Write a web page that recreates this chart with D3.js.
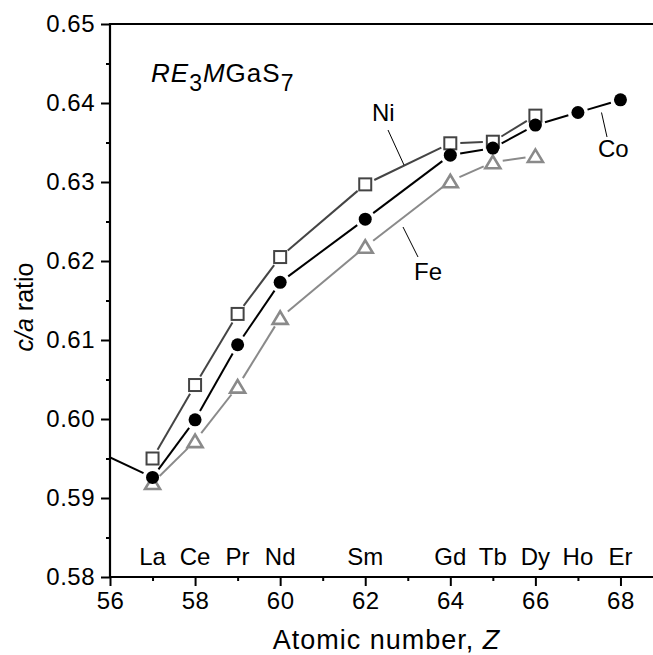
<!DOCTYPE html>
<html><head><meta charset="utf-8">
<script src="https://cdn.jsdelivr.net/npm/d3@7"></script>
<style>
html,body{margin:0;padding:0;background:#fff;}
text{font-family:Arial,"Liberation Sans",sans-serif;fill:#000;}
</style></head>
<body>
<svg id="chart" width="653" height="655"></svg>
<script>
// ---- data ----
const elements = ["La","Ce","Pr","Nd","Sm","Gd","Tb","Dy","Ho","Er"];
const elementZ = [57,58,59,60,62,64,65,66,67,68];
const coZ = [55,57,58,59,60,62,64,65,66,67,68];
const coVals = [0.5977,0.5926,0.5999,0.6094,0.6173,0.6253,0.6334,0.6343,0.6372,0.6388,0.6404];
const niZ = [57,58,59,60,62,64,65,66];
const niVals = [0.5950,0.6043,0.6133,0.6205,0.6297,0.6349,0.6351,0.6384];
const feZ = [57,58,59,60,62,64,65,66];
const feVals = [0.5919,0.5972,0.6041,0.6128,0.6218,0.6301,0.6325,0.6333];
const xTicks = [56,58,60,62,64,66,68];
const yTicks = [0.58,0.59,0.60,0.61,0.62,0.63,0.64,0.65];

const svg = d3.select("#chart");
const L=110, T=24, B=577, R=663;
const x = d3.scaleLinear().domain([56,69]).range([L,R]);
const y = d3.scaleLinear().domain([0.58,0.65]).range([B,T]);

svg.append("defs").append("clipPath").attr("id","clip")
  .append("rect").attr("x",L).attr("y",T).attr("width",R-L).attr("height",B-T);

// axes
const yAxis = d3.axisLeft(y).tickValues(yTicks).tickFormat(d3.format(".2f")).tickSize(9).tickPadding(6);
const yMinor = d3.axisLeft(y).tickValues(d3.range(0.585,0.65,0.01)).tickFormat("").tickSize(4);
const xAxis = d3.axisBottom(x).tickValues(xTicks).tickFormat(d3.format("d")).tickSize(9).tickPadding(6);
const xMinor = d3.axisBottom(x).tickValues(d3.range(57,70,2)).tickFormat("").tickSize(4);

function style(g){
  g.select(".domain").remove();
  g.selectAll("line").attr("stroke","#000").attr("stroke-width",2);
  g.selectAll("text").style("font-size","24px").style("letter-spacing","0.5px").attr("fill","#000");
}
svg.append("g").attr("transform",`translate(${L},0)`).call(yAxis).call(style);
svg.append("g").attr("transform",`translate(${L},0)`).call(yMinor).call(style);
svg.append("g").attr("transform",`translate(0,${B})`).call(xAxis).call(style);
svg.append("g").attr("transform",`translate(0,${B})`).call(xMinor).call(style);
// frame lines
svg.append("line").attr("x1",L).attr("x2",L).attr("y1",T-1).attr("y2",B+1).attr("stroke","#000").attr("stroke-width",2.2);
svg.append("line").attr("x1",L-1).attr("x2",653).attr("y1",B).attr("y2",B).attr("stroke","#000").attr("stroke-width",2.2);
svg.append("line").attr("x1",L-1).attr("x2",653).attr("y1",T).attr("y2",T).attr("stroke","#000").attr("stroke-width",2.2);

const plot = svg.append("g").attr("clip-path","url(#clip)");

function seriesLines(zs, vs, color, width, gap){
  const pts = zs.map((z,i)=>[x(z), y(vs[i])]);
  for(let i=0;i<pts.length-1;i++){
    const [x1,y1]=pts[i],[x2,y2]=pts[i+1];
    const dx=x2-x1, dy=y2-y1, len=Math.hypot(dx,dy);
    const ux=dx/len, uy=dy/len;
    if(len<2*gap+2) continue;
    plot.append("line")
      .attr("x1",x1+ux*gap).attr("y1",y1+uy*gap)
      .attr("x2",x2-ux*gap).attr("y2",y2-uy*gap)
      .attr("stroke",color).attr("stroke-width",width);
  }
}

// Fe
seriesLines(feZ, feVals, "#8a8a8a", 2, 10);
// Ni
seriesLines(niZ, niVals, "#444", 2, 10);
// Co
seriesLines(coZ, coVals, "#000", 2, 10);

// markers
plot.selectAll(".ni").data(niZ).enter().append("rect")
  .attr("x",(d)=>x(d)-6).attr("y",(d,i)=>y(niVals[i])-6)
  .attr("width",12).attr("height",12)
  .attr("fill","#fff").attr("stroke","#444").attr("stroke-width",2);
plot.selectAll(".fe").data(feZ).enter().append("path")
  .attr("d",(d,i)=>{const cx=x(d), cy=y(feVals[i]); return `M${cx-7.5},${cy+6}L${cx+7.5},${cy+6}L${cx},${cy-6.5}Z`;})
  .attr("fill","#fff").attr("stroke","#8a8a8a").attr("stroke-width",2.6).attr("stroke-linejoin","miter");
plot.selectAll(".co").data(coZ).enter().append("circle")
  .attr("cx",d=>x(d)).attr("cy",(d,i)=>y(coVals[i])).attr("r",6.5).attr("fill","#000");

// element labels
svg.selectAll(".el").data(elements).enter().append("text")
  .attr("x",(d,i)=>x(elementZ[i])).attr("y",565)
  .attr("text-anchor","middle").style("font-size","24px").text(d=>d);

// series labels with leaders
function leader(x1,y1,x2,y2){svg.append("line").attr("x1",x1).attr("y1",y1).attr("x2",x2).attr("y2",y2).attr("stroke","#000").attr("stroke-width",1);}
svg.append("text").attr("x",372).attr("y",121).style("font-size","24px").text("Ni");
leader(388,130,404,165);
svg.append("text").attr("x",414).attr("y",280).style("font-size","24px").text("Fe");
leader(403,227,418,257);
svg.append("text").attr("x",598).attr("y",157).style("font-size","24px").text("Co");
leader(601.5,112.5,607,137);

// compound title
const t = svg.append("text").attr("x",151).attr("y",82).style("font-size","26px").style("letter-spacing","1px");
t.append("tspan").style("font-style","italic").text("RE");
t.append("tspan").attr("dy",9).style("font-size","23px").text("3");
t.append("tspan").attr("dy",-9).style("font-style","italic").text("M");
t.append("tspan").text("GaS");
t.append("tspan").attr("dy",9).style("font-size","23px").text("7");

// axis titles
const xt = svg.append("text").attr("x",(L+R)/2).attr("y",649).attr("text-anchor","middle").style("font-size","27px").style("letter-spacing","1px");
xt.append("tspan").text("Atomic number, ");
xt.append("tspan").style("font-style","italic").text("Z");

const yt = svg.append("text").attr("transform","translate(33,307) rotate(-90)").attr("text-anchor","middle").style("font-size","25px");
yt.append("tspan").style("font-style","italic").text("c/a");
yt.append("tspan").text(" ratio");
</script>
</body></html>
